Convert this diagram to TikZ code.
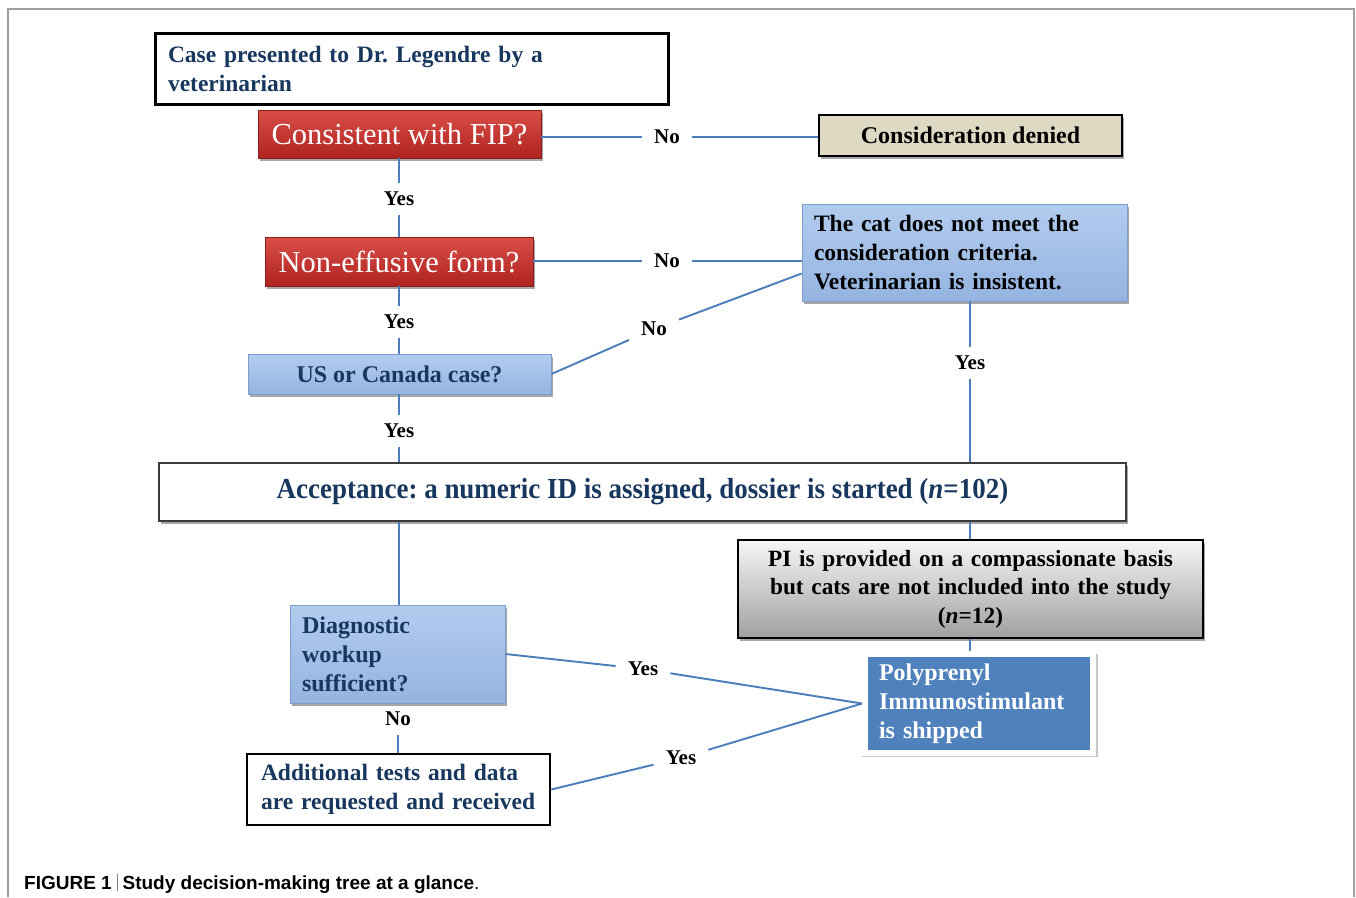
\documentclass[tikz,border=0pt]{standalone}
\usepackage{fontspec}
\setmainfont{Liberation Serif}
\newfontfamily\capfont{Liberation Sans}
\newfontfamily\accfont[FakeStretch=0.93]{Liberation Serif}
\usetikzlibrary{shadows,calc}
\frenchspacing
\definecolor{navy}{HTML}{17375E}
\definecolor{connc}{HTML}{4A7EBB}
\definecolor{tanc}{HTML}{DDD9C3}
\definecolor{polyc}{HTML}{4F81BD}
\tikzset{
  x=1pt, y=-1pt,
  connline/.style={draw=connc, line width=1.9pt},
  lbl/.style={font=\bfseries\fontsize{21}{23}\selectfont, inner xsep=12pt, inner ysep=9pt},
  shad/.style={drop shadow={shadow xshift=2pt, shadow yshift=-3pt, opacity=0.35, fill=black}},
  redbox/.style={shad, top color={rgb,255:red,218;green,78;blue,72}, bottom color={rgb,255:red,175;green,36;blue,32},
     draw={rgb,255:red,140;green,30;blue,26}, line width=0.6pt, text=white,
     font=\fontsize{30.5}{34}\selectfont, inner sep=0pt},
  bluebox/.style={shad, top color={rgb,255:red,178;green,204;blue,238}, bottom color={rgb,255:red,148;green,180;blue,224},
     draw={rgb,255:red,125;green,158;blue,204}, line width=0.8pt, inner sep=0pt,
     font=\bfseries\fontsize{23.5}{29}\selectfont},
  plainbox/.style={fill=white, draw=black, inner sep=0pt, font=\bfseries\fontsize{23.5}{29}\selectfont, text=navy},
}
\begin{document}
\begin{tikzpicture}
\useasboundingbox (0,0) rectangle (1356,897);
\fill[white] (0,0) rectangle (1356,897);
\draw[gray!75, line width=1.3pt] (8,897) -- (8,9) -- (1354,9) -- (1354,897);

% boxes
\node[plainbox, line width=3pt, minimum width=513pt, minimum height=71pt, text width=487pt, align=left] (case) at (411.5,68.5)
  {Case presented to Dr. Legendre by a\\veterinarian};
\node[redbox, minimum width=283pt, minimum height=48pt] (fip) at (399.5,134) {Consistent with FIP?};
\node[shad, fill=tanc, draw=black, line width=2pt, minimum width=303pt, minimum height=41pt, inner sep=0pt,
  font=\bfseries\fontsize{24}{28}\selectfont] (cd) at (970.5,135.5) {Consideration denied};
\node[redbox, minimum width=268pt, minimum height=49pt] (ne) at (399,261.5) {Non-effusive form?};
\node[bluebox, minimum width=325pt, minimum height=97pt, text width=301pt, align=left] (cat) at (964.5,252.5)
  {The cat does not meet the\\consideration criteria.\\Veterinarian is insistent.};
\node[bluebox, text=navy, minimum width=303pt, minimum height=40pt, font=\bfseries\fontsize{24}{28}\selectfont] (us) at (399.5,374) {US or Canada case?};
\node[plainbox, draw={rgb,255:red,60;green,60;blue,60}, line width=1.6pt, shad, minimum width=967pt, minimum height=58pt] (acc) at (642.5,492)
  {\accfont\fontsize{29}{32}\selectfont Acceptance: a numeric ID is assigned, dossier is started (\textit{n}=102)};
\node[shad, top color={rgb,255:red,246;green,246;blue,246}, bottom color={rgb,255:red,160;green,160;blue,160}, draw=black, line width=2pt,
  minimum width=465pt, minimum height=98pt, text width=445pt, align=center, inner sep=0pt,
  font=\bfseries\fontsize{23.3}{28.5}\selectfont] (pi) at (970.5,589)
  {PI is provided on a compassionate basis\\but cats are not included into the study\\(\textit{n}=12)};
\node[drop shadow={shadow xshift=1pt, shadow yshift=-2pt, shadow scale=1.035, opacity=0.22, fill=black}, fill=polyc, draw=white, line width=6pt, text=white,
  minimum width=228pt, minimum height=99pt, text width=200pt, align=left,
  inner sep=0pt, font=\bfseries\fontsize{24}{29}\selectfont] (poly) at (979,703.5)
  {Polyprenyl\\Immunostimulant\\is shipped};
\node[bluebox, text=navy, minimum width=215pt, minimum height=98pt, text width=191pt, align=left, font=\bfseries\fontsize{24}{29}\selectfont] (diag) at (397.5,654)
  {Diagnostic\\workup\\sufficient?};
\node[plainbox, line width=2.5pt, minimum width=303pt, minimum height=71pt, text width=275pt, align=left] (add) at (398.5,789.5)
  {Additional tests and data\\are requested and received};

% labels
\node[lbl] (no1) at (667,137) {No};
\node[lbl] (yes1) at (399,199) {Yes};
\node[lbl] (no2) at (667,261) {No};
\node[lbl] (yes2) at (399,322) {Yes};
\node[lbl] (no3) at (654,329) {No};
\node[lbl] (yes3) at (399,431) {Yes};
\node[lbl] (yes4) at (970,363) {Yes};
\node[lbl] (yes5) at (643,669) {Yes};
\node[lbl] (no4) at (398,719) {No};
\node[lbl] (yes6) at (681,758) {Yes};

% connectors
\draw[connline] (fip.east |- no1) -- (no1);
\draw[connline] (no1) -- (no1 -| cd.west);
\draw[connline] (yes1 |- fip.south) -- (yes1);
\draw[connline] (yes1) -- (yes1 |- ne.north);
\draw[connline] (ne.east |- no2) -- (no2);
\draw[connline] (no2) -- (no2 -| cat.west);
\draw[connline] (yes2 |- ne.south) -- (yes2);
\draw[connline] (yes2) -- (yes2 |- us.north);
\draw[connline] (us.east) -- (no3);
\draw[connline] (no3) -- ([yshift=-21pt]cat.west);
\draw[connline] (yes3 |- us.south) -- (yes3);
\draw[connline] (yes3) -- (yes3 |- acc.north);
\draw[connline] (yes4 |- cat.south) -- (yes4);
\draw[connline] (yes4) -- (yes4 |- acc.north);
\draw[connline] (yes3 |- acc.south) -- (yes3 |- diag.north);
\draw[connline] (yes4 |- acc.south) -- (yes4 |- pi.north);
\draw[connline] (yes4 |- pi.south) -- (yes4 |- poly.north);
\draw[connline] (diag.east) -- (yes5);
\draw[connline] (yes5) -- (poly.west);
\draw[connline] (no4) -- (no4 |- add.north);
\draw[connline] (add.east) -- (yes6);
\draw[connline] (yes6) -- (poly.west);

% caption
\node[anchor=base west, inner sep=0pt, font=\capfont\fontsize{19}{22}\selectfont] (cap) at (24,889)
  {\textbf{FIGURE 1}\hspace{5pt}{\color{gray}\rule[-2pt]{0.8pt}{17pt}}\hspace{5pt}\textbf{Study decision-making tree at a glance}.};
\end{tikzpicture}
\end{document}
